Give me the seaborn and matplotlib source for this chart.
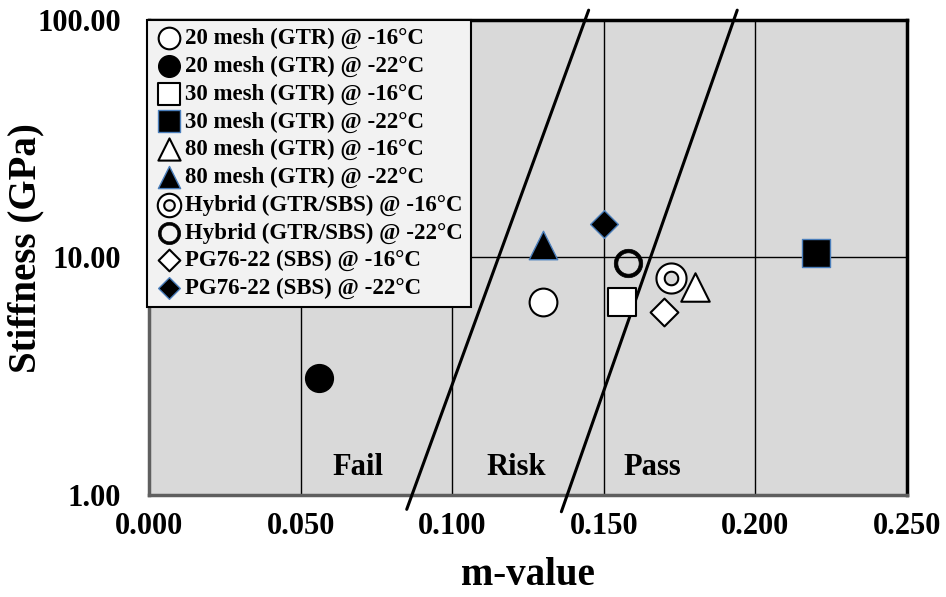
import numpy as np
import matplotlib
matplotlib.use("Agg")
import matplotlib.pyplot as plt
import seaborn as sns
from matplotlib.path import Path

# m-value / stiffness (GPa)
labels = [
    "20 mesh (GTR) @ -16°C",
    "20 mesh (GTR) @ -22°C",
    "30 mesh (GTR) @ -16°C",
    "30 mesh (GTR) @ -22°C",
    "80 mesh (GTR) @ -16°C",
    "80 mesh (GTR) @ -22°C",
    "Hybrid (GTR/SBS) @ -16°C",
    "Hybrid (GTR/SBS) @ -22°C",
    "PG76-22 (SBS) @ -16°C",
    "PG76-22 (SBS) @ -22°C",
]
m_value = [0.130, 0.056, 0.156, 0.220, 0.180, 0.130, 0.172, 0.158, 0.170, 0.150]
stiffness = [6.5, 3.1, 6.5, 10.4, 7.5, 11.3, 8.2, 9.5, 5.9, 13.8]

# the two sloped boundary lines (end points)
line1_m = [0.085, 0.145]
line1_s = [0.87, 110]
line2_m = [0.136, 0.194]
line2_s = [0.85, 110]

zone_names = ["Fail", "Risk", "Pass"]
zone_m = [0.069, 0.121, 0.166]
zone_s = [1.21, 1.21, 1.21]

yticks = [1, 10, 100]
xticks = [0.0, 0.05, 0.10, 0.15, 0.20, 0.25]


def donut(inner):
    t = np.linspace(0, 2 * np.pi, 65)
    outer = np.column_stack([np.cos(t), np.sin(t)])
    hole = np.column_stack([inner * np.cos(t[::-1]), inner * np.sin(t[::-1])])
    verts = np.vstack([outer, hole])
    codes = ([Path.MOVETO] + [Path.LINETO] * 63 + [Path.CLOSEPOLY]) * 2
    return Path(verts, codes)


ring_thin = donut(0.45)
ring_thick = donut(0.75)

blue_edge = "#4a7ebb"
styles = [
    dict(marker="o", s=400, color="white", edgecolor="black", linewidth=1.5),
    dict(marker="o", s=400, color="black", edgecolor="black", linewidth=1.0),
    dict(marker="s", s=420, color="white", edgecolor="black", linewidth=1.5),
    dict(marker="s", s=420, color="black", edgecolor=blue_edge, linewidth=1.0),
    dict(marker="^", s=420, color="white", edgecolor="black", linewidth=1.5),
    dict(marker="^", s=420, color="black", edgecolor=blue_edge, linewidth=1.0),
    dict(marker=ring_thin, s=470, color="white", edgecolor="black", linewidth=1.5),
    dict(marker=ring_thick, s=420, color="black", edgecolor="black", linewidth=0.5),
    dict(marker="D", s=200, color="white", edgecolor="black", linewidth=1.5),
    dict(marker="D", s=200, color="black", edgecolor=blue_edge, linewidth=1.0),
]

sns.set_style("white")
plt.rcParams["font.family"] = ["Liberation Serif", "DejaVu Serif"]
plt.rcParams["font.weight"] = "bold"
plt.rcParams["text.color"] = "black"
plt.rcParams["axes.labelcolor"] = "black"
plt.rcParams["xtick.color"] = "black"
plt.rcParams["ytick.color"] = "black"

fig = plt.figure(figsize=(9.46, 5.97), dpi=100)
ax = fig.add_axes([0.1575, 0.1709, 0.8013, 0.7956])
ax.set_facecolor("#d9d9d9")

for lab, mv, sv, st in zip(labels, m_value, stiffness, styles):
    sns.scatterplot(x=[mv], y=[sv], ax=ax, label=lab, zorder=5, **st)

for lm, ls in [(line1_m, line1_s), (line2_m, line2_s)]:
    sns.lineplot(x=lm, y=ls, ax=ax, color="black", linewidth=2.2,
                 clip_on=False, zorder=4)

for name, zm, zs in zip(zone_names, zone_m, zone_s):
    ax.text(zm, zs, name, ha="center", va="baseline", fontsize=22,
            fontweight="bold", color="black")

ax.set_yscale("log")
ax.set_xlim(0, 0.25)
ax.set_ylim(1, 100)
ax.set_xticks(xticks)
ax.set_xticklabels([f"{v:.3f}" for v in xticks])
ax.set_yticks(yticks)
ax.set_yticklabels([f"{v:.2f}" for v in yticks])
ax.minorticks_off()
ax.tick_params(axis="both", length=0, labelsize=22, labelcolor="black")
ax.tick_params(axis="x", pad=12)
ax.tick_params(axis="y", pad=20)
ax.grid(True, color="black", linewidth=1.0)
ax.set_axisbelow(True)

ax.set_xlabel("m-value", fontsize=28, fontweight="bold", va="top", color="black")
ax.xaxis.set_label_coords(0.5, -0.13)
ax.set_ylabel("Stiffness (GPa)", fontsize=28, fontweight="bold", color="black")
ax.yaxis.set_label_coords(-0.138, 0.52)

for side in ["top", "right"]:
    ax.spines[side].set_color("black")
    ax.spines[side].set_linewidth(2.5)
for side in ["left", "bottom"]:
    ax.spines[side].set_color("#5f5f5f")
    ax.spines[side].set_linewidth(2.5)

leg = ax.legend(loc="upper left", bbox_to_anchor=(-0.002, 1.0), borderaxespad=0,
                fontsize=16.5, frameon=True, fancybox=False, framealpha=1,
                facecolor="#f2f2f2", edgecolor="black", markerscale=0.78,
                handletextpad=0.1, labelspacing=0.28, borderpad=0.35,
                handlelength=1.2)
leg.get_frame().set_linewidth(1.5)
leg.set_zorder(10)
for t in leg.get_texts():
    t.set_color("black")

fig.savefig("out.png", dpi=100)
